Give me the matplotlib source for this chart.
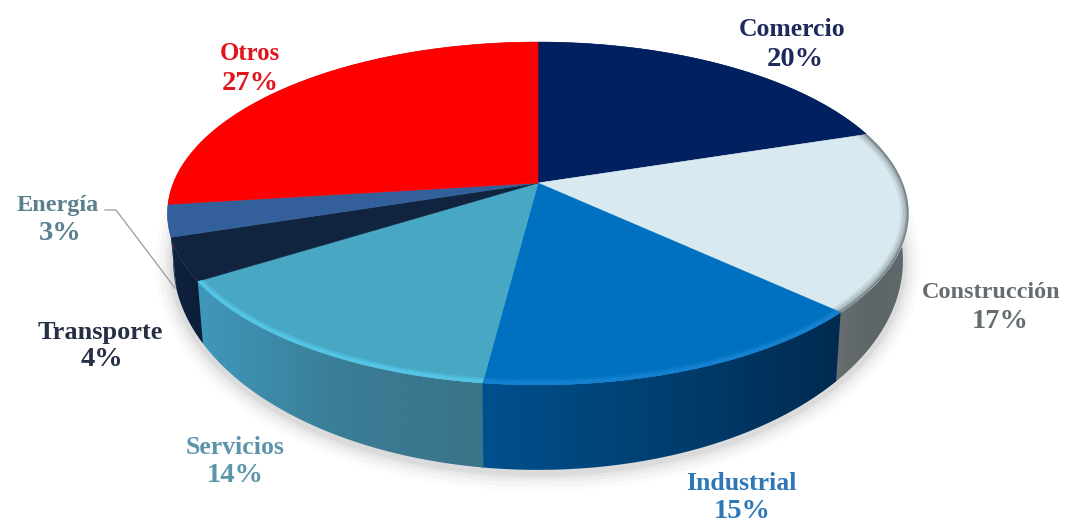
import numpy as np
import matplotlib
matplotlib.use("Agg")
import matplotlib.pyplot as plt
from matplotlib.colors import LinearSegmentedColormap
from matplotlib.patches import Polygon

# Sector shares, clockwise from twelve o'clock
sectors = ["Comercio", "Construcción", "Industrial", "Servicios", "Transporte", "Energía", "Otros"]
shares = [20, 17, 15, 14, 4, 3, 27]

top_colors = ["#002060", "#d9e9f0", "#0070c0", "#48a8c4", "#10243f", "#33609a", "#ff0000"]
wall_stops = [
    ["#001a50", "#001a50"],
    ["#6a6f70", "#5c6568", "#5f686b"],
    ["#00508e", "#003f70", "#002a50"],
    ["#3f98bb", "#3a7d96", "#3a7488"],
    ["#0f2240", "#0c1d36"],
    ["#24456e", "#24456e"],
    ["#b00000", "#b00000"],
]
rim_colors = [None, "#59666b", "#1583d0", "#55c6e6", None, None, None]
label_colors = ["#1f2a5c", "#666d70", "#2f78b8", "#5c95aa", "#262f46", "#5a808e", "#e2141c"]

# Label anchors (name centre, percent centre) in pixels
name_xy = [(792, 30), (991, 293), (741, 484), (235, 447), (100, 333), (58, 206), (250, 53)]
pct_xy = [(795, 59), (1000, 322), (742, 511), (235, 476), (102, 360), (60, 234), (250, 83)]
name_sizes = [18.5, 17.5, 18.5, 18.5, 19, 17.5, 17.8]
leader_x = [105, 116, 175]
leader_y = [210, 210, 288]

# Perspective view of the disc
CX, CY = 538.0, 183.0
A, B, K = 364.6, 166.0, 0.1778


def project(theta):
    x, y = np.sin(theta), np.cos(theta)
    w = 1 + K * y
    return CX + A * x / w, CY - B * y / w


def lower(px, py):
    return CX + (px - CX) * 0.985, py + 47 + (py - 213) * 38 / 172


fig = plt.figure(figsize=(10.76, 5.24), dpi=100, facecolor="white")
ax = fig.add_axes([0, 0, 1, 1])
ax.set_xlim(0, 1076)
ax.set_ylim(524, 0)
ax.axis("off")

edges = np.cumsum([0] + shares) / sum(shares) * 2 * np.pi

# Soft drop shadow under the front of the disc
t = np.linspace(np.pi * 0.42, np.pi * 1.52, 300)
sx, sy = lower(*project(t))
for lw, alpha in zip([26, 20, 14, 9, 5], [0.02, 0.03, 0.04, 0.05, 0.07]):
    ax.plot(sx, sy + 3, color="#555555", lw=lw, alpha=alpha, solid_capstyle="round", zorder=1)

# Side walls with a left-to-right gradient; each runs slightly under the next to hide seams
for i in range(len(shares)):
    t = np.linspace(edges[i], edges[i + 1] + 0.006, 120)
    px, py = project(t)
    bx, by = lower(px, py)
    verts = np.column_stack([np.r_[px, bx[::-1]], np.r_[py, by[::-1]]])
    poly = Polygon(verts, closed=True, fc="none", ec="none", zorder=2 + i * 0.01)
    ax.add_patch(poly)
    cmap = LinearSegmentedColormap.from_list(f"wall{i}", wall_stops[i])
    im = ax.imshow(np.linspace(0, 1, 256)[None, :], cmap=cmap, aspect="auto", zorder=2 + i * 0.01,
                   extent=(verts[:, 0].min(), verts[:, 0].max(), verts[:, 1].max(), verts[:, 1].min()))
    im.set_clip_path(poly)
ax.set_xlim(0, 1076)
ax.set_ylim(524, 0)

# Top faces, with a soft bevel along the front edge
for i in range(len(shares)):
    t = np.linspace(edges[i], edges[i + 1], 120)
    px, py = project(t)
    verts = np.column_stack([np.r_[CX, px], np.r_[CY, py]])
    face = Polygon(verts, closed=True, fc=top_colors[i], ec=top_colors[i], lw=0.4, zorder=3)
    ax.add_patch(face)
    if rim_colors[i]:
        if i == 1:
            widths, alphas = [16, 11, 6, 3], [0.12, 0.2, 0.3, 0.5]
            front = t
        else:
            widths, alphas = [11, 7], [0.45, 0.9]
            front = t[py > 205]
        rx, ry = project(front)
        for lw, alpha in zip(widths, alphas):
            line, = ax.plot(rx, ry, color=rim_colors[i], lw=lw * 0.72, alpha=alpha, zorder=4)
            line.set_clip_path(face)

# Leader line from the Energía label to its slice
ax.plot(leader_x, leader_y, color="#9a9a9a", lw=0.9, zorder=5)

for name, share, nxy, pxy, color, size in zip(sectors, shares, name_xy, pct_xy, label_colors, name_sizes):
    ax.text(*nxy, name, color=color, fontsize=size, fontweight="bold", family="Liberation Serif",
            ha="center", va="center", zorder=6)
    ax.text(*pxy, f"{share}%", color=color, fontsize=20.5, fontweight="bold", family="Liberation Serif",
            ha="center", va="center", zorder=6)

fig.savefig("out.png", dpi=100, facecolor="white")
